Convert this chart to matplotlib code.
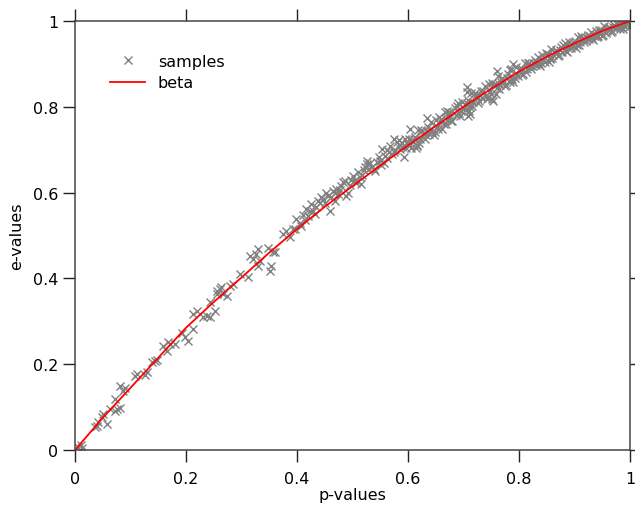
import matplotlib
matplotlib.use("Agg")
import matplotlib.pyplot as plt

# ---------------- data ----------------
samples_low_p = [0.005, 0.010, 0.013, 0.036, 0.039, 0.042, 0.048, 0.050, 0.057, 0.063,
                 0.072, 0.075, 0.081, 0.072, 0.081, 0.087, 0.090, 0.108, 0.111, 0.126,
                 0.129, 0.138, 0.144, 0.147, 0.159, 0.165, 0.168, 0.171, 0.180, 0.192,
                 0.198, 0.204, 0.213, 0.213, 0.219, 0.231, 0.237, 0.243, 0.243, 0.252,
                 0.255, 0.255, 0.261, 0.263, 0.267, 0.273, 0.279, 0.285, 0.297, 0.312,
                 0.315, 0.321, 0.327, 0.330, 0.333, 0.330, 0.348, 0.351, 0.354, 0.357,
                 0.360, 0.375, 0.381, 0.387, 0.393, 0.396, 0.399]
samples_low_e = [0.008, 0.012, 0.004, 0.054, 0.057, 0.065, 0.076, 0.085, 0.061, 0.096,
                 0.092, 0.096, 0.099, 0.119, 0.150, 0.138, 0.145, 0.173, 0.178, 0.175,
                 0.181, 0.204, 0.208, 0.210, 0.243, 0.231, 0.251, 0.247, 0.247, 0.272,
                 0.263, 0.255, 0.282, 0.317, 0.325, 0.309, 0.312, 0.309, 0.344, 0.325,
                 0.364, 0.371, 0.375, 0.380, 0.364, 0.360, 0.383, 0.386, 0.410, 0.404,
                 0.453, 0.445, 0.457, 0.430, 0.441, 0.469, 0.472, 0.418, 0.430, 0.461,
                 0.461, 0.503, 0.511, 0.496, 0.515, 0.515, 0.538]

samples_mid_p = [0.405, 0.411, 0.417, 0.420, 0.426, 0.429, 0.435, 0.441, 0.444, 0.447,
                 0.453, 0.459, 0.462, 0.468, 0.468, 0.471, 0.474, 0.480, 0.483, 0.486,
                 0.489, 0.492, 0.495, 0.501, 0.504, 0.510, 0.513, 0.516, 0.520, 0.526,
                 0.526, 0.530, 0.535, 0.541, 0.545, 0.550, 0.553, 0.556, 0.559, 0.562,
                 0.565, 0.568, 0.571, 0.574, 0.574, 0.577, 0.580, 0.584, 0.586, 0.589,
                 0.592, 0.595, 0.598,
                 0.408, 0.414, 0.423, 0.432, 0.438, 0.450, 0.456, 0.465, 0.477, 0.498,
                 0.507, 0.518, 0.523, 0.532, 0.538, 0.547, 0.552, 0.563, 0.583, 0.590,
                 0.596]
samples_mid_e = [0.530, 0.548, 0.562, 0.545, 0.573, 0.556, 0.566, 0.575, 0.589, 0.585,
                 0.600, 0.558, 0.590, 0.581, 0.600, 0.608, 0.596, 0.615, 0.624, 0.628,
                 0.593, 0.600, 0.617, 0.639, 0.630, 0.647, 0.636, 0.620, 0.652, 0.667,
                 0.674, 0.655, 0.660, 0.651, 0.672, 0.674, 0.702, 0.668, 0.686, 0.680,
                 0.695, 0.709, 0.690, 0.694, 0.725, 0.700, 0.717, 0.712, 0.701, 0.706,
                 0.682, 0.725, 0.715,
                 0.522, 0.537, 0.558, 0.551, 0.581, 0.575, 0.592, 0.604, 0.605, 0.630,
                 0.622, 0.642, 0.660, 0.668, 0.655, 0.683, 0.665, 0.700, 0.722, 0.715,
                 0.705]

samples_high_p = [0.602, 0.606, 0.610, 0.614, 0.618, 0.622, 0.626, 0.630, 0.634, 0.638,
                  0.642, 0.646, 0.650, 0.654, 0.658, 0.662, 0.666, 0.670, 0.674, 0.678,
                  0.682, 0.686, 0.690, 0.694, 0.698, 0.702, 0.706, 0.710, 0.714, 0.718,
                  0.722, 0.726, 0.730, 0.734, 0.738, 0.742, 0.746, 0.750, 0.754, 0.758,
                  0.762, 0.766, 0.770, 0.774, 0.778, 0.782, 0.786, 0.790, 0.794, 0.798,
                  0.802, 0.806, 0.810, 0.814, 0.818, 0.822, 0.826, 0.830, 0.834, 0.838,
                  0.842, 0.846, 0.850, 0.854, 0.858, 0.862, 0.866, 0.870, 0.874, 0.878,
                  0.882, 0.886, 0.890, 0.894, 0.898, 0.902, 0.906, 0.910, 0.914, 0.918,
                  0.922, 0.926, 0.930, 0.934, 0.938, 0.942, 0.946, 0.950, 0.954, 0.958,
                  0.962, 0.966, 0.970, 0.974, 0.978, 0.982, 0.986, 0.990, 0.994, 0.998]
samples_high_e = [0.726, 0.705, 0.724, 0.705, 0.746, 0.726, 0.743, 0.724, 0.743, 0.737,
                  0.765, 0.735, 0.769, 0.749, 0.767, 0.748, 0.789, 0.769, 0.787, 0.767,
                  0.786, 0.780, 0.808, 0.779, 0.812, 0.792, 0.810, 0.790, 0.832, 0.811,
                  0.828, 0.809, 0.827, 0.821, 0.848, 0.819, 0.852, 0.831, 0.850, 0.830,
                  0.871, 0.851, 0.868, 0.848, 0.866, 0.861, 0.888, 0.858, 0.892, 0.871,
                  0.887, 0.873, 0.903, 0.888, 0.901, 0.888, 0.901, 0.897, 0.917, 0.896,
                  0.920, 0.905, 0.919, 0.905, 0.934, 0.920, 0.933, 0.919, 0.932, 0.928,
                  0.948, 0.928, 0.951, 0.937, 0.950, 0.938, 0.963, 0.951, 0.961, 0.950,
                  0.961, 0.957, 0.974, 0.956, 0.976, 0.964, 0.975, 0.964, 0.989, 0.977,
                  0.987, 0.975, 0.986, 0.983, 0.999, 0.981, 0.998, 0.988, 0.999, 0.987]

samples_fill_p = [0.604, 0.612, 0.620, 0.628, 0.636, 0.644, 0.652, 0.660, 0.668, 0.676,
                  0.684, 0.692, 0.700, 0.708, 0.716, 0.724, 0.732, 0.740, 0.748, 0.756,
                  0.764, 0.772, 0.780, 0.788, 0.796, 0.804, 0.812, 0.820, 0.828, 0.836,
                  0.844, 0.852, 0.860, 0.868, 0.876, 0.884, 0.892, 0.900, 0.908, 0.916,
                  0.924, 0.932, 0.940, 0.948, 0.956, 0.964, 0.972, 0.980, 0.988, 0.996,
                  0.616, 0.634, 0.652, 0.670, 0.706, 0.709, 0.724, 0.751, 0.760, 0.784,
                  0.790, 0.856, 0.898, 0.940, 0.988, 0.754, 0.712, 0.706, 0.604]
samples_fill_e = [0.711, 0.729, 0.716, 0.736, 0.753, 0.742, 0.754, 0.772, 0.759, 0.779,
                  0.797, 0.785, 0.797, 0.815, 0.801, 0.821, 0.837, 0.825, 0.837, 0.854,
                  0.841, 0.860, 0.877, 0.865, 0.876, 0.891, 0.882, 0.896, 0.909, 0.900,
                  0.909, 0.922, 0.914, 0.928, 0.940, 0.931, 0.941, 0.953, 0.945, 0.957,
                  0.967, 0.960, 0.967, 0.978, 0.971, 0.983, 0.991, 0.985, 0.992, 0.998,
                  0.709, 0.775, 0.752, 0.791, 0.834, 0.779, 0.822, 0.818, 0.884, 0.857,
                  0.900, 0.911, 0.942, 0.962, 0.981, 0.814, 0.783, 0.845, 0.748]

samples_extra_p = [0.608, 0.616, 0.624, 0.632, 0.640, 0.648, 0.656, 0.664, 0.672, 0.680,
                   0.688, 0.696, 0.704, 0.712, 0.720, 0.728, 0.736, 0.744, 0.752, 0.760,
                   0.768, 0.776, 0.784, 0.792, 0.800, 0.808, 0.816, 0.824, 0.832, 0.840,
                   0.848, 0.856, 0.864, 0.872, 0.880, 0.888, 0.896, 0.904, 0.912, 0.920,
                   0.928, 0.936, 0.944, 0.952, 0.960, 0.968, 0.976, 0.984, 0.992]
samples_extra_e = [0.723, 0.710, 0.745, 0.734, 0.748, 0.742, 0.776, 0.759, 0.781, 0.768,
                   0.802, 0.791, 0.805, 0.799, 0.832, 0.814, 0.836, 0.822, 0.856, 0.844,
                   0.858, 0.851, 0.885, 0.866, 0.886, 0.877, 0.902, 0.894, 0.905, 0.901,
                   0.925, 0.913, 0.928, 0.920, 0.944, 0.937, 0.947, 0.944, 0.964, 0.953,
                   0.966, 0.964, 0.979, 0.967, 0.983, 0.977, 0.992, 0.987, 0.997]

beta_p = [0.00, 0.05, 0.10, 0.15, 0.20, 0.25, 0.30, 0.35, 0.40, 0.45, 0.50,
          0.55, 0.60, 0.65, 0.70, 0.75, 0.80, 0.85, 0.90, 0.95, 1.00]
beta_e = [0.000, 0.075, 0.145, 0.215, 0.285, 0.345, 0.402, 0.460, 0.515, 0.567, 0.615,
          0.663, 0.710, 0.755, 0.800, 0.842, 0.882, 0.917, 0.948, 0.977, 1.000]

ticks = [0.0, 0.2, 0.4, 0.6, 0.8, 1.0]
tick_labels = ["0", "0.2", "0.4", "0.6", "0.8", "1"]

# ---------------- figure ----------------
plt.rcParams['font.family'] = ['DejaVu Sans']
fig = plt.figure(figsize=(6.35, 5.06), dpi=100)
ax = fig.add_axes([75 / 635, 55 / 506, 555 / 635, 429 / 506])

samples_p = samples_low_p + samples_mid_p + samples_high_p + samples_fill_p + samples_extra_p
samples_e = samples_low_e + samples_mid_e + samples_high_e + samples_fill_e + samples_extra_e

ax.plot(samples_p, samples_e, linestyle='none', marker='x', color='#808080',
        markersize=6.2, markeredgewidth=1.0, label='samples', zorder=2)
ax.plot(beta_p, beta_e, color='#ff0000', linewidth=1.3, label='beta', zorder=3)

ax.set_xlim(0, 1)
ax.set_ylim(0, 1)
ax.set_xticks(ticks)
ax.set_xticklabels(tick_labels)
ax.set_yticks(ticks)
ax.set_yticklabels(tick_labels)

for s in ax.spines.values():
    s.set_color('#444444')
    s.set_linewidth(1.1)
    s.set_zorder(4)

ax.tick_params(axis='both', which='both', direction='out', length=8.5, width=1.0,
               color='#222222', top=True, right=True, labelsize=11.5, labelcolor='black')
ax.tick_params(axis='x', pad=6.5)
ax.tick_params(axis='y', pad=3.5)

ax.set_xlabel('p-values', fontsize=11.5, labelpad=1)
ax.set_ylabel('e-values', fontsize=11.5, labelpad=6)

ax.legend(loc='upper left', bbox_to_anchor=(0.063, 0.923), frameon=False,
          fontsize=11.5, handlelength=2.2, handletextpad=0.8, labelspacing=0.4,
          borderpad=0, borderaxespad=0)

fig.savefig('out.png', dpi=100)
